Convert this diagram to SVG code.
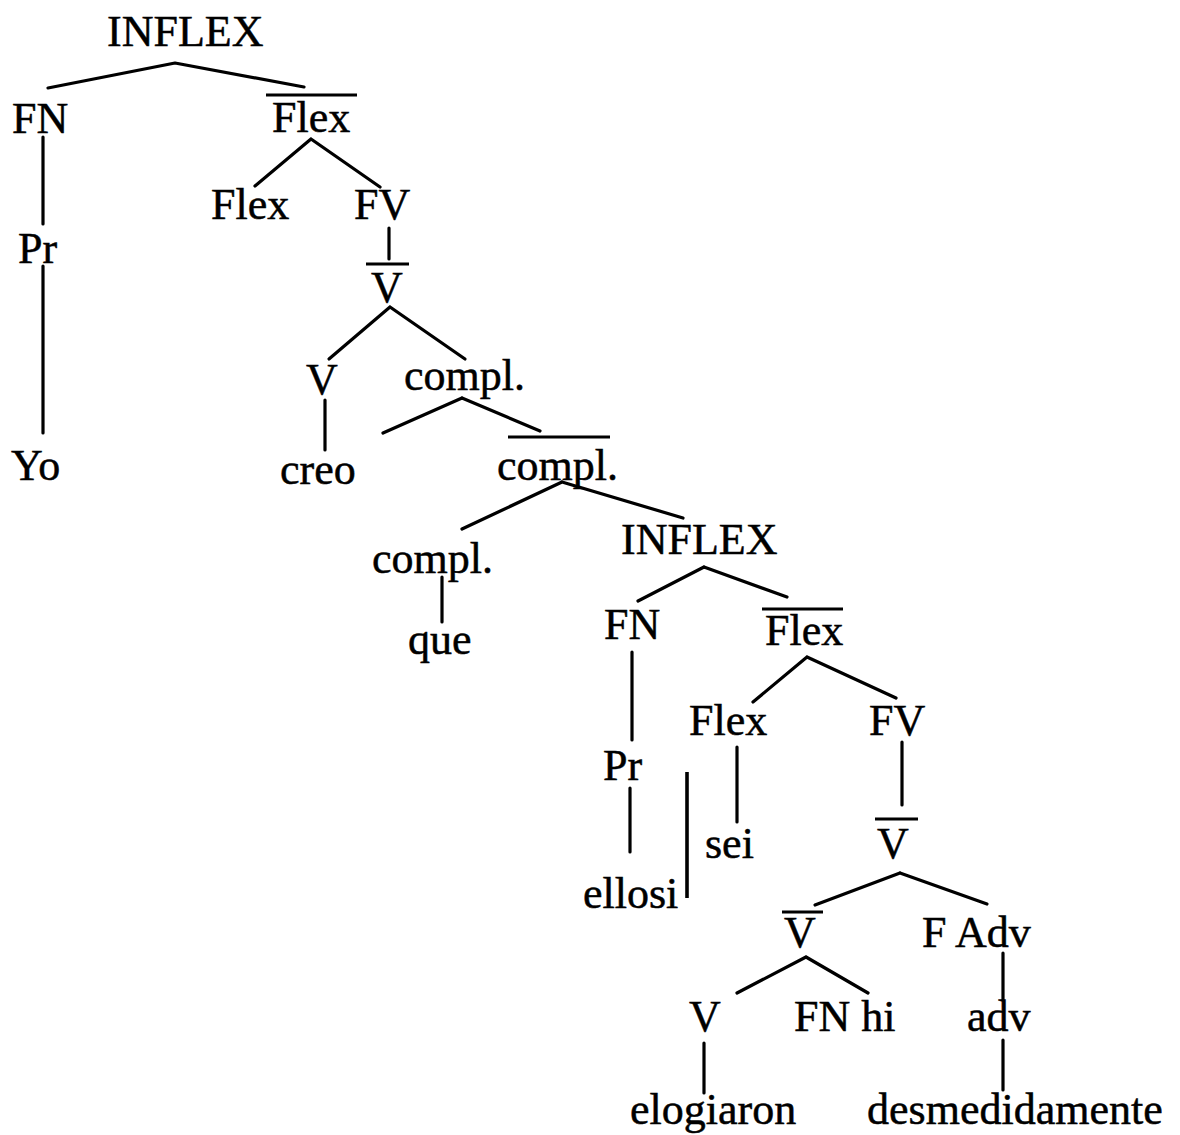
<svg xmlns="http://www.w3.org/2000/svg" width="1180" height="1135" viewBox="0 0 1180 1135">
  <style>
    text { font-family: "Liberation Serif", "Times New Roman", serif; font-size: 44px; fill: #000; stroke: #000; stroke-width: 0.5; }
    .edge { stroke: #000; stroke-width: 3.2; stroke-linecap: round; fill: none; }
    .bar { stroke: #000; stroke-width: 3; fill: none; }
    .idx { stroke: #000; stroke-width: 3.6; fill: none; }
  </style>
  <rect width="1180" height="1135" fill="#fff"/>

  <!-- tree edges -->
  <g id="connectors">
    <path class="edge" d="M175 63 L48 88 M175 63 L304 87"/>
    <path class="edge" d="M43 137 V224"/>
    <path class="edge" d="M43 266 V433"/>
    <path class="edge" d="M311 139 L255 186 M311 139 L380 187"/>
    <path class="edge" d="M389 228 V259"/>
    <path class="edge" d="M390 307 L329 359 M390 307 L465 359"/>
    <path class="edge" d="M325 400 V450"/>
    <path class="edge" d="M462 398 L383 433 M462 398 L540 431"/>
    <path class="edge" d="M562 482 L462 529 M562 482 L683 518"/>
    <path class="edge" d="M442 577 V622"/>
    <path class="edge" d="M704 567 L638 601 M704 567 L787 597"/>
    <path class="edge" d="M632 652 V740"/>
    <path class="edge" d="M630 788 V852"/>
    <path class="edge" d="M807 657 L753 702 M807 657 L896 698"/>
    <path class="edge" d="M737 747 V822"/>
    <path class="edge" d="M902 742 V805"/>
    <path class="edge" d="M900 873 L815 905 M900 873 L987 904"/>
    <path class="edge" d="M806 957 L737 993 M806 957 L868 993"/>
    <path class="edge" d="M1003 953 V1000"/>
    <path class="edge" d="M704 1043 V1093"/>
    <path class="edge" d="M1003 1040 V1090"/>
    <!-- index line beside ellosi / sei -->
    <path class="idx" d="M687 772 V898"/>
  </g>

  <!-- nodes -->
  <g id="n-inflex1"><text x="107" y="46">INFLEX</text></g>
  <g id="n-fn1"><text x="12" y="133">FN</text></g>
  <g id="n-flexbar1"><path class="bar" d="M266 95 H357"/><text x="272" y="132">Flex</text></g>
  <g id="n-flex1"><text x="211" y="219">Flex</text></g>
  <g id="n-fv1"><text x="354" y="219">FV</text></g>
  <g id="n-pr1"><text x="18" y="263">Pr</text></g>
  <g id="n-vbar1"><path class="bar" d="M366 264 H409"/><text x="371" y="302">V</text></g>
  <g id="n-v1"><text x="306" y="394">V</text></g>
  <g id="n-compl1"><text x="404" y="390">compl.</text></g>
  <g id="n-yo"><text x="11" y="480">Yo</text></g>
  <g id="n-creo"><text x="280" y="484">creo</text></g>
  <g id="n-complbar"><path class="bar" d="M508 437 H610"/><text x="497" y="480">compl.</text></g>
  <g id="n-compl2"><text x="372" y="573">compl.</text></g>
  <g id="n-que"><text x="408" y="654">que</text></g>
  <g id="n-inflex2"><text x="621" y="554">INFLEX</text></g>
  <g id="n-fn2"><text x="604" y="639">FN</text></g>
  <g id="n-flexbar2"><path class="bar" d="M762 609 H843"/><text x="765" y="645">Flex</text></g>
  <g id="n-flex2"><text x="689" y="735">Flex</text></g>
  <g id="n-fv2"><text x="869" y="735">FV</text></g>
  <g id="n-pr2"><text x="603" y="780">Pr</text></g>
  <g id="n-sei"><text x="705" y="858">sei</text></g>
  <g id="n-vbar2"><path class="bar" d="M875 819 H918"/><text x="877" y="858">V</text></g>
  <g id="n-ellosi"><text x="583" y="908">ellosi</text></g>
  <g id="n-vbar3"><path class="bar" d="M782 912 H823"/><text x="784" y="947">V</text></g>
  <g id="n-fadv"><text x="922" y="947">F Adv</text></g>
  <g id="n-v2"><text x="689" y="1031">V</text></g>
  <g id="n-fnhi"><text x="794" y="1031">FN hi</text></g>
  <g id="n-adv"><text x="967" y="1031">adv</text></g>
  <g id="n-elogiaron"><text x="630" y="1124">elogiaron</text></g>
  <g id="n-desmedidamente"><text x="867" y="1124">desmedidamente</text></g>
</svg>
